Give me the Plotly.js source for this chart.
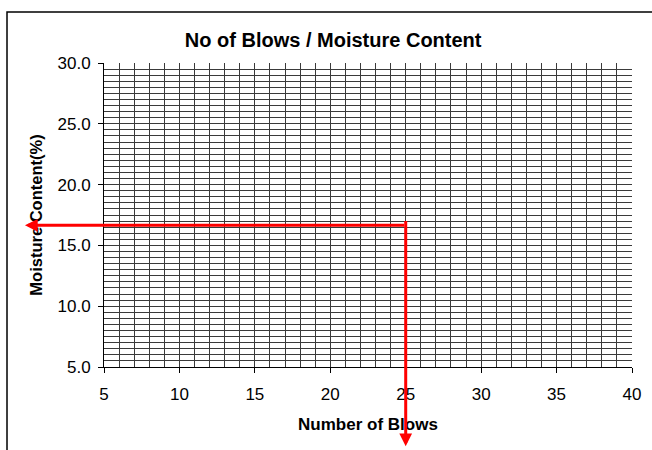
<!DOCTYPE html>
<html>
<head>
<meta charset="utf-8">
<script src="https://cdn.plot.ly/plotly-3.0.1.min.js"></script>
<style>html,body{margin:0;padding:0;background:#fff;}#chart{width:652px;height:450px;}</style>
</head>
<body>
<div id="chart"></div>
<script>
// Axis ranges and ticks
const xRange = [5, 40];
const yRange = [5, 30];
const xTickVals = [5, 10, 15, 20, 25, 30, 35, 40];
const xTickText = ["5", "10", "15", "20", "25", "30", "35", "40"];
const yTickVals = [5, 10, 15, 20, 25, 30];
const yTickText = ["5.0", "10.0", "15.0", "20.0", "25.0", "30.0"];
// vertical gridlines every blow (none drawn at the right edge, 40)
const xGridVals = [];
for (let v = xRange[0]; v < xRange[1]; v += 1) xGridVals.push(v);

// Reading lines: 25 blows -> moisture content
const blowsAt = [25];
const moistureAt = [16.65];
// arrow ends (data units, beyond the axes)
const hArrowTipX = [-0.24];
const vArrowTopY = [17.12];
const vArrowTipY = [-1.52];

const FONT = "Liberation Sans, Arial, sans-serif";
const GRID = "#3a3a3a";

const traces = [
  {x: xRange, y: yRange, type: "scatter", mode: "markers",
   marker: {opacity: 0}, hoverinfo: "skip", showlegend: false},
  {x: xRange, y: yRange, xaxis: "x2", type: "scatter", mode: "markers",
   marker: {opacity: 0}, hoverinfo: "skip", showlegend: false}
];

const annotations = [
  { // horizontal arrow, pointing left
    x: hArrowTipX[0], y: moistureAt[0], xref: "x", yref: "y",
    ax: blowsAt[0], ay: moistureAt[0], axref: "x", ayref: "y",
    text: "", showarrow: true, arrowhead: 2, arrowsize: 0.85, arrowwidth: 3,
    arrowcolor: "#ff0000", standoff: 0
  },
  { // vertical arrow, pointing down
    x: blowsAt[0], y: vArrowTipY[0], xref: "x", yref: "y",
    ax: blowsAt[0], ay: vArrowTopY[0], axref: "x", ayref: "y",
    text: "", showarrow: true, arrowhead: 2, arrowsize: 0.85, arrowwidth: 3,
    arrowcolor: "#ff0000", standoff: 0
  }
];

const layout = {
  width: 652, height: 450,
  margin: {l: 104, r: 20, t: 63, b: 83, pad: 0},
  paper_bgcolor: "#ffffff", plot_bgcolor: "#ffffff",
  showlegend: false,
  font: {family: FONT, color: "#000"},
  title: {
    text: "<b>No of Blows / Moisture Content</b>",
    font: {family: FONT, size: 20, color: "#000"},
    x: 0.511, xref: "container", xanchor: "center",
    y: 0.911, yref: "container", yanchor: "middle"
  },
  xaxis: {
    range: xRange, tickmode: "array", tickvals: xTickVals, ticktext: xTickText,
    ticks: "outside", ticklen: 5, tickwidth: 1, tickcolor: "#000",
    ticklabelstandoff: 7,
    showline: true, linecolor: "#000", linewidth: 1,
    showgrid: false,
    zeroline: false,
    tickfont: {family: FONT, size: 17, color: "#000"},
    title: {text: "<b>Number of Blows</b>", font: {family: FONT, size: 17, color: "#000"}, standoff: 14},
    fixedrange: true
  },
  xaxis2: {
    overlaying: "x", anchor: "y", side: "bottom",
    range: xRange, tickmode: "array", tickvals: xGridVals,
    showticklabels: false, ticks: "", showline: false, zeroline: false,
    showgrid: true, gridcolor: GRID, gridwidth: 1,
    fixedrange: true
  },
  yaxis: {
    range: yRange, tickmode: "array", tickvals: yTickVals, ticktext: yTickText,
    ticks: "outside", ticklen: 5, tickwidth: 1, tickcolor: "#000",
    ticklabelstandoff: 4,
    showline: true, linecolor: "#000", linewidth: 1,
    showgrid: true, gridcolor: GRID, gridwidth: 1,
    minor: {dtick: 0.5, showgrid: true, gridcolor: GRID, gridwidth: 1, ticks: ""},
    zeroline: false,
    tickfont: {family: FONT, size: 17, color: "#000"},
    title: {text: "<b>Moisture Content(%)</b>", font: {family: FONT, size: 16.5, color: "#000"}, standoff: 10},
    fixedrange: true
  },
  shapes: [{
    type: "rect", xref: "paper", yref: "paper",
    x0: -0.1837, x1: 1.3, y0: -0.6, y1: 1.168,
    line: {color: "#000", width: 1.5}, fillcolor: "rgba(0,0,0,0)", layer: "above"
  }],
  annotations: annotations
};

Plotly.newPlot("chart", traces, layout, {staticPlot: true, displayModeBar: false});
</script>
</body>
</html>
